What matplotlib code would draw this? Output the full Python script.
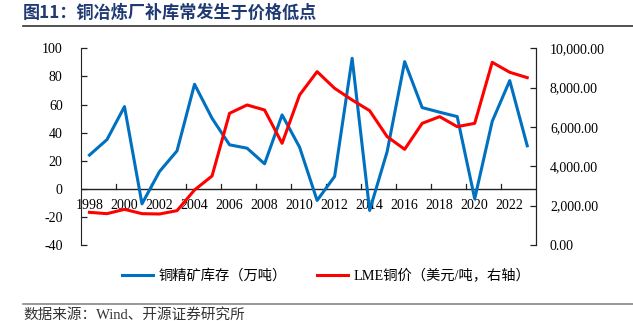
import matplotlib
matplotlib.use("Agg")
import matplotlib.pyplot as plt
from matplotlib.lines import Line2D

plt.rcParams['font.family'] = ['Liberation Serif', 'Noto Sans CJK SC', 'DejaVu Sans']
plt.rcParams['axes.unicode_minus'] = False

years = list(range(1998, 2024))
# 铜精矿库存（万吨）, left axis
concentrate_stock = [24, 35, 58.5, -10.7, 12.3, 27, 74.4, 50.2, 31.3, 28.9, 17.8, 52.6, 29.6,
                     -8.3, 8.8, 92.9, -15.4, 26.5, 90.5, 57.8, 54.5, 51.4, -7.1, 48, 77, 30.6]
# LME铜价（美元/吨）, right axis
lme_copper = [1661, 1593, 1813, 1593, 1576, 1746, 2797, 3508, 6695, 7119, 6864, 5169, 7627,
              8813, 7966, 7373, 6830, 5508, 4864, 6186, 6525, 6017, 6186, 9288, 8780, 8508]

W, H = 633, 321
fig = plt.figure(figsize=(W / 100, H / 100), dpi=100)
ax = fig.add_axes([80.7 / W, 1 - 245 / H, (536 - 80.7) / W, (245 - 48.3) / H])
ax2 = ax.twinx()

x = list(range(len(years)))
ax.plot(x, concentrate_stock, color='#0070C0', lw=2.2, zorder=3)
ax2.plot(x, lme_copper, color='#FF0000', lw=2.2, zorder=3)

ax.set_xlim(-0.5, len(years) - 0.5)
ax.set_ylim(-40, 100)
ax.set_yticks(range(-40, 101, 20))
ax2.set_ylim(0, 10000)
ax2.set_yticks(range(0, 10001, 2000))
ax2.set_yticklabels([f"{v:,.2f}" for v in range(0, 10001, 2000)])

# category axis crosses at 0
ax.axhline(0, color='#222222', lw=1.0, zorder=2)
for i in range(2, len(years), 2):
    ax.plot([i - 0.5, i - 0.5], [0, 3.5], color='#222222', lw=0.9, zorder=2)
ax.set_xticks([])
for i in range(0, len(years), 2):
    ax.text(i, -7.5, str(years[i]), ha='center', va='top', fontsize=10,
            family='Liberation Serif', zorder=1)

for a in (ax, ax2):
    a.spines['top'].set_visible(False)
    a.spines['bottom'].set_visible(False)
    a.tick_params(axis='y', direction='in', length=4, width=0.9, labelsize=10,
                  colors='#222222', labelcolor='black')
ax.tick_params(axis='y', pad=13)
ax2.tick_params(axis='y', pad=10)
ax.spines['left'].set_color('#222222')
ax2.spines['right'].set_color('#222222')
ax2.spines['left'].set_visible(False)

handles = [Line2D([], [], color='#0070C0', lw=2.2),
           Line2D([], [], color='#FF0000', lw=2.2)]
fig.legend(handles, ['铜精矿库存（万吨）', 'LME铜价（美元/吨，右轴）'],
           loc='center', bbox_to_anchor=(0.515, 1 - 276 / H), ncol=2, frameon=False,
           handlelength=2.2, handletextpad=0.35, columnspacing=2.1,
           prop={'family': ['Liberation Serif', 'Noto Sans CJK SC'], 'size': 10.3})

fig.text(23 / W, 1 - 13 / H, '图11：铜冶炼厂补库常发生于价格低点', ha='left', va='center',
         fontsize=12.3, fontweight='bold', color='#1F3A73',
         family=['Noto Sans CJK SC', 'DejaVu Sans'])
fig.add_artist(Line2D([23 / W, 1], [1 - 26 / H] * 2, color='#333333', lw=1.2))
fig.add_artist(Line2D([23 / W, 1], [1 - 303.7 / H] * 2, color='#888888', lw=1.2))
fig.text(23 / W, 1 - 315 / H, '数据来源：Wind、开源证券研究所', ha='left', va='center',
         fontsize=10.5, color='#333333', family=['Liberation Serif', 'Noto Sans CJK SC'])

fig.savefig('out.png', dpi=100)
